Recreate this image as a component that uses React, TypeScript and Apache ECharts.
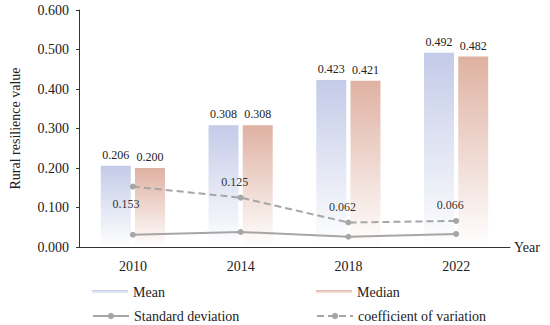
import React, { useEffect, useRef } from "react";
import * as echarts from "echarts";

const years = ["2010", "2014", "2018", "2022"];
const meanValues = [0.206, 0.308, 0.423, 0.492];
const medianValues = [0.2, 0.308, 0.421, 0.482];
const stdValues = [0.031, 0.038, 0.026, 0.033];
const cvValues = [0.153, 0.125, 0.062, 0.066];

const FONT = "'Liberation Serif', 'Times New Roman', serif";

export default function App() {
  const ref = useRef<HTMLDivElement>(null);
  useEffect(() => {
    if (!ref.current) return;
    const chart = echarts.init(ref.current, undefined, { renderer: "svg" });
    const grad = (top: string) =>
      new echarts.graphic.LinearGradient(0, 0, 0, 1, [
        { offset: 0, color: top },
        { offset: 1, color: "#ffffff" },
      ]);
    const legendText = { fontFamily: FONT, fontSize: 14, color: "#222" };
    const common = { padding: 0, itemWidth: 36 };
    chart.setOption({
      animation: false,
      textStyle: { fontFamily: FONT },
      grid: { left: 75, right: 40, top: 10, bottom: 78 },
      legend: [
        {
          ...common,
          data: [{ name: "Mean", icon: "rect" }],
          left: 92, top: 285, itemHeight: 4,
          textStyle: legendText,
        },
        {
          ...common,
          data: [{ name: "Median", icon: "rect" }],
          left: 316, top: 285, itemHeight: 4,
          textStyle: legendText,
        },
        {
          ...common,
          data: ["Standard deviation"],
          left: 92, top: 309, itemHeight: 8,
          textStyle: legendText,
        },
        {
          ...common,
          data: ["coefficient of variation"],
          left: 316, top: 309, itemHeight: 8,
          textStyle: legendText,
        },
      ],
      xAxis: {
        type: "category",
        data: years,
        name: "Year",
        nameLocation: "end",
        nameGap: 4,
        nameTextStyle: { fontFamily: FONT, fontSize: 14, color: "#222", verticalAlign: "middle" },
        axisLine: { lineStyle: { color: "#333", width: 1 } },
        axisTick: { alignWithLabel: true, inside: true, length: 4, lineStyle: { color: "#333" } },
        axisLabel: { fontFamily: FONT, fontSize: 14, color: "#222", margin: 12 },
      },
      yAxis: {
        type: "value",
        min: 0,
        max: 0.6,
        interval: 0.1,
        name: "Rural resilience value",
        nameLocation: "middle",
        nameGap: 57,
        nameTextStyle: { fontFamily: FONT, fontSize: 14, color: "#222" },
        axisLine: { show: true, lineStyle: { color: "#333", width: 1 } },
        axisTick: { show: true, length: 3, lineStyle: { color: "#333" } },
        splitLine: { show: false },
        axisLabel: {
          fontFamily: FONT, fontSize: 14, color: "#222", margin: 10,
          formatter: (v: number) => v.toFixed(3),
        },
      },
      series: [
        {
          name: "Mean",
          type: "bar",
          data: meanValues,
          barWidth: 30,
          barGap: "14%",
          itemStyle: { color: grad("#c4cbe8") },
          label: {
            show: true, position: "top", distance: 5,
            fontFamily: FONT, fontSize: 12, color: "#222",
            formatter: (p: any) => p.value.toFixed(3),
          },
        },
        {
          name: "Median",
          type: "bar",
          data: medianValues,
          barWidth: 30,
          itemStyle: { color: grad("#dfb1a2") },
          label: {
            show: true, position: "top", distance: 5,
            fontFamily: FONT, fontSize: 12, color: "#222",
            formatter: (p: any) => p.value.toFixed(3),
          },
        },
        {
          name: "Standard deviation",
          type: "line",
          data: stdValues,
          symbol: "circle",
          symbolSize: 6,
          itemStyle: { color: "#a6a6a6" },
          lineStyle: { color: "#a6a6a6", width: 2 },
        },
        {
          name: "coefficient of variation",
          type: "line",
          data: cvValues.map((v, i) =>
            i === 0
              ? { value: v, label: { position: "bottom", offset: [-7, 2] } }
              : { value: v }
          ),
          symbol: "circle",
          symbolSize: 6,
          itemStyle: { color: "#a6a6a6" },
          lineStyle: { color: "#a6a6a6", width: 2, type: [7, 4] },
          label: {
            show: true, position: "top", offset: [-6, -1], distance: 6,
            fontFamily: FONT, fontSize: 12, color: "#333",
            formatter: (p: any) => p.value.toFixed(3),
          },
        },
      ],
    });
    return () => chart.dispose();
  }, []);
  return <div ref={ref} style={{ width: 550, height: 325, position: "absolute", left: 0, top: 0 }} />;
}
